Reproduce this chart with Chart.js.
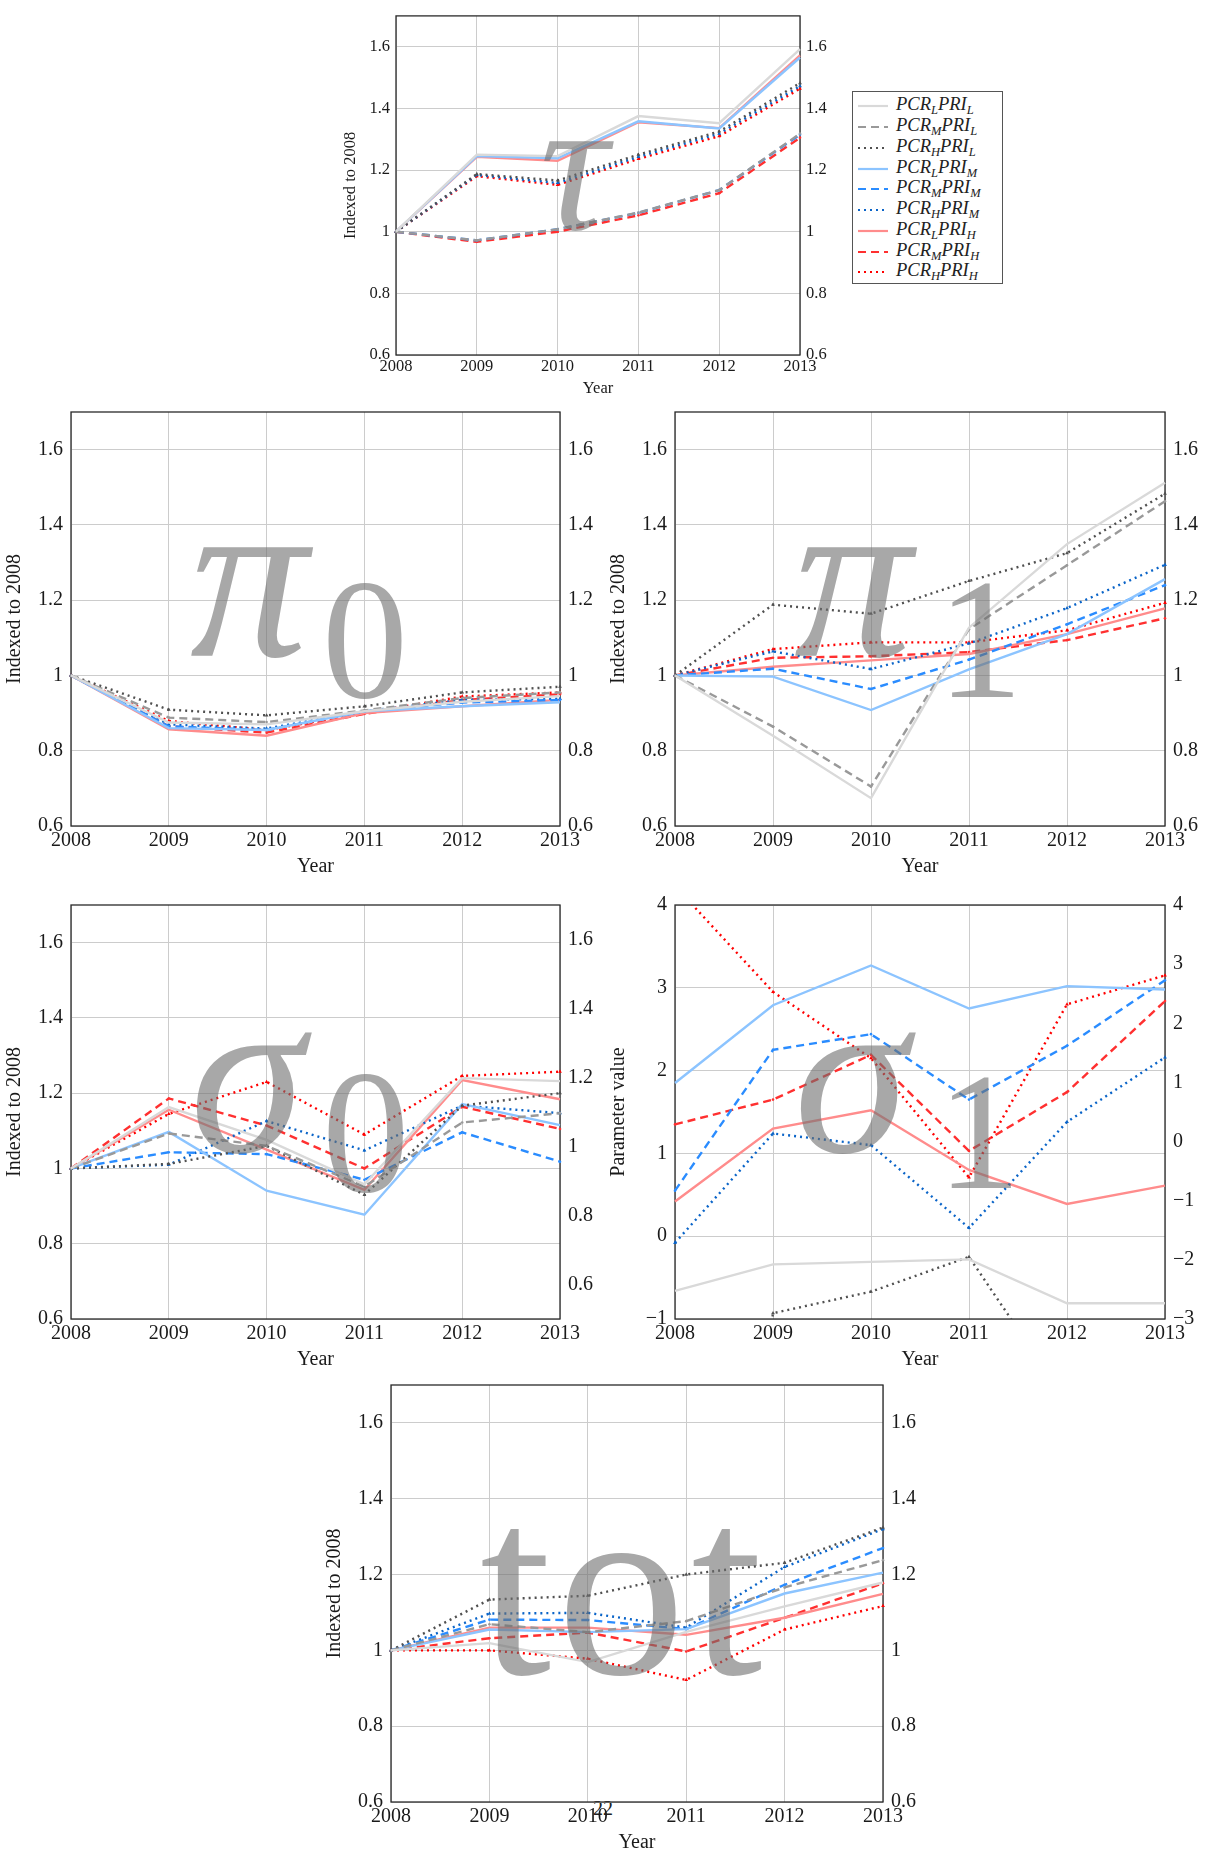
<!DOCTYPE html>
<html>
<head>
<meta charset="utf-8">
<script src="https://cdn.jsdelivr.net/npm/chart.js@4.4.1/dist/chart.umd.min.js"></script>
<style>
    body { margin: 0; background: #fff; overflow: hidden; }
    #page { position: relative; width: 1209px; height: 1855px; font-family: "Liberation Serif", serif; }
    .mark { position: absolute; color: rgba(110, 110, 110, 0.6); font-family: "Liberation Serif", serif;
            line-height: 1; white-space: nowrap; pointer-events: none; z-index: 5; }
    #legend { position: absolute; left: 852px; top: 91px; width: 151px; height: 193px;
              border: 1px solid #555; background: #fff; padding-top: 4px; box-sizing: border-box; }
    .row { height: 20.75px; display: flex; align-items: center; font-size: 18.5px; font-style: italic; color: #222; }
    .row svg { margin: 0 8px 0 5px; flex: none; }
    .row sub { font-size: 12.5px; vertical-align: -4px; }
    #pageno { position: absolute; left: 593px; top: 1797px; font-size: 20px; color: #222; }
</style>
</head>
<body>
<div id="page">
    <div id="legend"></div>
    <div id="pageno">22</div>
</div>
<script>
// x categories
const years = ['2008', '2009', '2010', '2011', '2012', '2013'];

// series order: PCR_L PRI_L, PCR_M PRI_L, PCR_H PRI_L, then PRI_M, then PRI_H
const pcrLevels = ['L', 'M', 'H'];
const priLevels = ['L', 'M', 'H'];

// tick labels of the right axes
const indexRightTicks = [0.6, 0.8, 1, 1.2, 1.4, 1.6];
const sigma0RightTicks = [0.6, 0.8, 1, 1.2, 1.4, 1.6];
const sigma1RightTicks = [-3, -2, -1, 0, 1, 2, 3, 4];

// tau panel (indexed to 2008)
const tauValues = [
    [1, 1.250, 1.245, 1.375, 1.352, 1.592],
    [1, 0.972, 1.008, 1.062, 1.135, 1.318],
    [1, 1.187, 1.166, 1.250, 1.325, 1.482],
    [1, 1.245, 1.238, 1.358, 1.335, 1.565],
    [1, 0.972, 1.008, 1.061, 1.135, 1.315],
    [1, 1.184, 1.158, 1.243, 1.318, 1.472],
    [1, 1.243, 1.230, 1.355, 1.336, 1.572],
    [1, 0.967, 1.000, 1.053, 1.125, 1.305],
    [1, 1.180, 1.152, 1.236, 1.310, 1.464]
];

// pi_0 panel
const pi0Values = [
    [1, 0.875, 0.870, 0.905, 0.930, 0.945],
    [1, 0.888, 0.876, 0.907, 0.940, 0.955],
    [1, 0.909, 0.894, 0.918, 0.955, 0.970],
    [1, 0.860, 0.855, 0.905, 0.918, 0.929],
    [1, 0.865, 0.855, 0.905, 0.928, 0.935],
    [1, 0.870, 0.859, 0.905, 0.935, 0.938],
    [1, 0.857, 0.840, 0.900, 0.918, 0.935],
    [1, 0.865, 0.848, 0.898, 0.935, 0.950],
    [1, 0.879, 0.855, 0.900, 0.944, 0.955]
];

// pi_1 panel
const pi1Values = [
    [1, 0.840, 0.674, 1.127, 1.349, 1.512],
    [1, 0.864, 0.705, 1.123, 1.293, 1.463],
    [1, 1.188, 1.164, 1.251, 1.325, 1.483],
    [1, 0.997, 0.908, 1.016, 1.110, 1.256],
    [1, 1.018, 0.964, 1.042, 1.136, 1.240],
    [1, 1.064, 1.017, 1.085, 1.179, 1.294],
    [1, 1.023, 1.040, 1.057, 1.110, 1.178],
    [1, 1.047, 1.051, 1.062, 1.094, 1.152],
    [1, 1.070, 1.088, 1.088, 1.120, 1.193]
];

// sigma_0 panel
const sigma0Values = [
    [1, 1.163, 1.076, 0.958, 1.240, 1.232],
    [1, 1.093, 1.060, 0.952, 1.122, 1.147],
    [1, 1.012, 1.060, 0.930, 1.167, 1.200],
    [1, 1.097, 0.941, 0.877, 1.171, 1.115],
    [1, 1.043, 1.038, 0.970, 1.096, 1.018],
    [1, 1.010, 1.126, 1.048, 1.167, 1.147],
    [1, 1.156, 1.050, 0.943, 1.235, 1.184],
    [1, 1.186, 1.114, 1.000, 1.164, 1.105],
    [1, 1.145, 1.230, 1.090, 1.246, 1.257]
];

// sigma_1 panel (parameter value, not indexed)
const sigma1Values = [
    [-0.66, -0.34, -0.31, -0.28, -0.81, -0.81],
    [-2.6, -2.2, -2.4, -1.9, -3.0, -3.3],
    [-9.0, -0.93, -0.67, -0.25, -2.0, -3.0],
    [1.85, 2.79, 3.27, 2.75, 3.02, 2.98],
    [0.55, 2.25, 2.44, 1.65, 2.30, 3.09],
    [-0.08, 1.24, 1.10, 0.10, 1.38, 2.16],
    [0.42, 1.30, 1.52, 0.80, 0.39, 0.61],
    [1.35, 1.65, 2.19, 1.03, 1.74, 2.84],
    [4.23, 2.95, 2.15, 0.71, 2.80, 3.15]
];

// tot panel
const totValues = [
    [1, 1.019, 0.969, 1.049, 1.116, 1.179],
    [1, 1.069, 1.048, 1.077, 1.166, 1.238],
    [1, 1.134, 1.144, 1.200, 1.231, 1.324],
    [1, 1.055, 1.048, 1.056, 1.150, 1.205],
    [1, 1.081, 1.080, 1.056, 1.173, 1.270],
    [1, 1.097, 1.099, 1.060, 1.220, 1.320],
    [1, 1.060, 1.060, 1.041, 1.086, 1.149],
    [1, 1.032, 1.047, 0.997, 1.086, 1.177],
    [1, 1.000, 0.978, 0.922, 1.055, 1.117]
];

// look of each series
const lineColors = ['#d9d9d9', '#999999', '#505050',
                    '#8cc4ff', '#2a8cff', '#0a64c8',
                    '#ff8c8c', '#ff3030', '#ff0000'];
const dashByPcr = [[], [8, 5], [2, 4]];

const seriesLabels = [];
priLevels.forEach(pri => pcrLevels.forEach(pcr => seriesLabels.push('PCR' + pcr + ' PRI' + pri)));

const gridColor = '#cccccc';
const textColor = '#1a1a1a';
const serif = '"Liberation Serif", serif';

const fmtTick = v => String(Math.round(v * 100) / 100).replace('-', '\u2212');

// draw the black frame round the plot
const framePlugin = {
    id: 'frame',
    beforeDatasetsDraw(chart) {
        const a = chart.chartArea;
        const ctx = chart.ctx;
        ctx.save();
        ctx.strokeStyle = '#2a2a2a';
        ctx.lineWidth = 1.3;
        ctx.strokeRect(a.left, a.top, a.right - a.left, a.bottom - a.top);
        ctx.restore();
    }
};

const buildDatasets = (rows) => rows.map((vals, i) => {
    const kind = i % 3;
    return {
        label: seriesLabels[i],
        data: vals,
        borderColor: lineColors[i],
        backgroundColor: lineColors[i],
        borderWidth: 2.4,
        borderDash: dashByPcr[kind],
        pointRadius: kind === 0 ? 0 : (kind === 1 ? 1.3 : 2.2),
        pointStyle: kind === 2 ? 'triangle' : 'circle',
        pointBorderWidth: 0,
        fill: false,
        tension: 0,
        yAxisID: 'y',
    };
});

const makePanel = (p) => {
    const w = p.wl + (p.R - p.L) + p.wr;
    const h = p.pt + (p.B - p.T) + p.hb;
    const cv = document.createElement('canvas');
    cv.width = w;
    cv.height = h;
    cv.style.cssText = `position:absolute;left:${p.L - p.wl}px;top:${p.T - p.pt}px;width:${w}px;height:${h}px;`;
    document.getElementById('page').appendChild(cv);

    const font = { family: serif, size: p.fs };
    const tickFont = { family: serif, size: p.fs };

    new Chart(cv, {
        type: 'line',
        data: { labels: years, datasets: buildDatasets(p.values) },
        options: {
            responsive: false,
            animation: false,
            devicePixelRatio: 1,
            layout: { padding: { top: p.pt, left: 0, right: 0, bottom: 0 } },
            plugins: { legend: { display: false }, tooltip: { enabled: false } },
            scales: {
                x: {
                    type: 'category',
                    offset: false,
                    grid: { color: gridColor, drawTicks: false },
                    border: { display: false },
                    ticks: { font: tickFont, color: textColor, padding: p.xpad, maxRotation: 0, autoSkip: false },
                    title: { display: true, text: 'Year', font: font, color: textColor, padding: { top: 0, bottom: p.tpad } },
                    afterFit: (s) => { s.height = p.hb; },
                },
                y: {
                    position: 'left',
                    min: p.yMin,
                    max: p.yMax,
                    grid: { color: gridColor, drawTicks: false },
                    border: { display: false },
                    ticks: { stepSize: p.yStep, includeBounds: false, callback: fmtTick, font: tickFont, color: textColor, padding: p.ypad },
                    title: { display: true, text: p.yTitle, font: font, color: textColor, padding: { top: p.tpad, bottom: 0 } },
                    afterFit: (s) => { s.width = p.wl; },
                },
                y2: {
                    position: 'right',
                    min: p.y2Min,
                    max: p.y2Max,
                    grid: { drawOnChartArea: false, drawTicks: false },
                    border: { display: false },
                    ticks: { callback: fmtTick, font: tickFont, color: textColor, padding: p.ypad },
                    afterBuildTicks: (s) => { s.ticks = p.y2Ticks.map(v => ({ value: v })); },
                    afterFit: (s) => { s.width = p.wr; },
                },
            },
        },
        plugins: [framePlugin],
    });
};

const indexTitle = 'Indexed to 2008';
const bigPanel = { wl: 70, wr: 49, pt: 12, hb: 55, fs: 20, xpad: 3, ypad: 8, tpad: 2 };

makePanel({ L: 396, T: 6, R: 800, B: 355, wl: 55, wr: 45, pt: 6, hb: 44, fs: 16.5, xpad: 2, ypad: 6, tpad: 0,
    values: tauValues, yTitle: indexTitle, yMin: 0.6, yMax: 1.7, yStep: 0.2, y2Min: 0.6, y2Max: 1.7, y2Ticks: indexRightTicks });

makePanel({ ...bigPanel, L: 71, T: 404, R: 560, B: 826,
    values: pi0Values, yTitle: indexTitle, yMin: 0.6, yMax: 1.7, yStep: 0.2, y2Min: 0.6, y2Max: 1.7, y2Ticks: indexRightTicks });

makePanel({ ...bigPanel, wr: 44, L: 675, T: 404, R: 1165, B: 826,
    values: pi1Values, yTitle: indexTitle, yMin: 0.6, yMax: 1.7, yStep: 0.2, y2Min: 0.6, y2Max: 1.7, y2Ticks: indexRightTicks });

makePanel({ ...bigPanel, L: 71, T: 897, R: 560, B: 1319,
    values: sigma0Values, yTitle: indexTitle, yMin: 0.6, yMax: 1.7, yStep: 0.2, y2Min: 0.5, y2Max: 1.7, y2Ticks: sigma0RightTicks });

makePanel({ ...bigPanel, wr: 44, L: 675, T: 897, R: 1165, B: 1319,
    values: sigma1Values, yTitle: 'Parameter value', yMin: -1, yMax: 4, yStep: 1, y2Min: -3, y2Max: 4, y2Ticks: sigma1RightTicks });

makePanel({ ...bigPanel, L: 391, T: 1377, R: 883, B: 1802,
    values: totValues, yTitle: indexTitle, yMin: 0.6, yMax: 1.7, yStep: 0.2, y2Min: 0.6, y2Max: 1.7, y2Ticks: indexRightTicks });

// grey panel names laid over the plots
const panelMarks = [
    { text: '\u03c4', left: 540, top: 70, size: 190, italic: true, spacing: 0 },
    { text: '\u03c0', left: 190, top: 460, size: 235, italic: true, spacing: 0 },
    { text: '0', left: 322, top: 553, size: 172, italic: false, spacing: 0 },
    { text: '\u03c0', left: 794, top: 460, size: 235, italic: true, spacing: 0 },
    { text: '1', left: 937, top: 553, size: 172, italic: false, spacing: 0 },
    { text: '\u03c3', left: 190, top: 958, size: 232, italic: true, spacing: 0 },
    { text: '0', left: 322, top: 1045, size: 175, italic: false, spacing: 0 },
    { text: '\u03c3', left: 794, top: 958, size: 232, italic: true, spacing: 0 },
    { text: '1', left: 937, top: 1047, size: 168, italic: false, spacing: 0 },
    { text: 'tot', left: 480, top: 1460, size: 256, italic: false, spacing: 6 },
];
panelMarks.forEach(m => {
    const d = document.createElement('div');
    d.className = 'mark';
    d.textContent = m.text;
    d.style.left = m.left + 'px';
    d.style.top = m.top + 'px';
    d.style.fontSize = m.size + 'px';
    d.style.letterSpacing = m.spacing + 'px';
    d.style.fontStyle = m.italic ? 'italic' : 'normal';
    document.getElementById('page').appendChild(d);
});

// legend for the tau panel, with subscripts
const legend = document.getElementById('legend');
priLevels.forEach((pri, a) => pcrLevels.forEach((pcr, b) => {
    const i = a * 3 + b;
    const dash = dashByPcr[b].length ? `stroke-dasharray="${dashByPcr[b].join(',')}"` : '';
    const row = document.createElement('div');
    row.className = 'row';
    row.innerHTML =
        `<svg width="30" height="8"><line x1="0" y1="4" x2="30" y2="4" stroke="${lineColors[i]}" stroke-width="2.2" ${dash}/></svg>` +
        `<span>PCR<sub>${pcr}</sub>PRI<sub>${pri}</sub></span>`;
    legend.appendChild(row);
}));
</script>
</body>
</html>
